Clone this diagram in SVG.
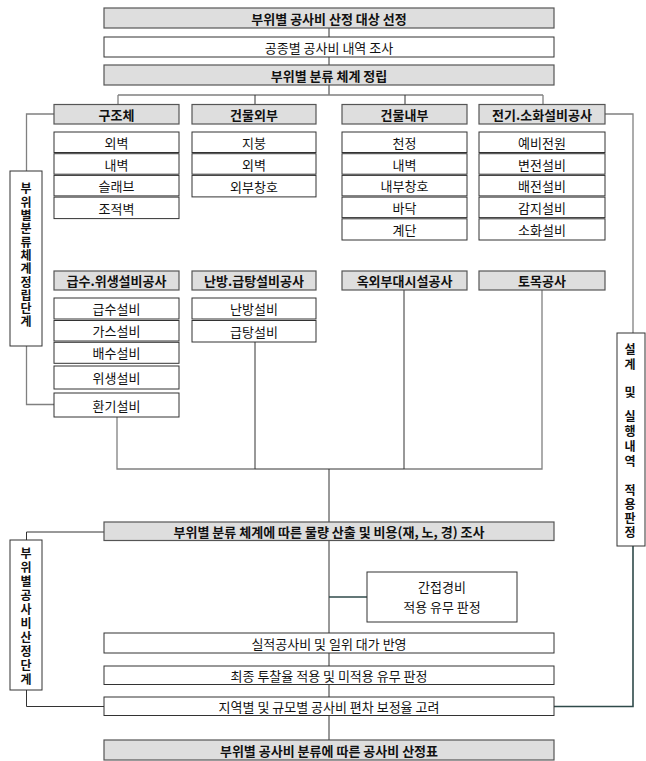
<svg xmlns="http://www.w3.org/2000/svg" width="646" height="761" viewBox="0 0 646 761">
<style>
  .g{fill:#dedede;stroke:#555;stroke-width:1.2}
  .w{fill:#fff;stroke:#333;stroke-width:1}
  .l{fill:#fff;stroke:#333;stroke-width:1}
  text{font-family:"Noto Sans CJK KR","Noto Sans",sans-serif;fill:#111;text-anchor:middle;dominant-baseline:central}
  .b{font-size:13px;font-weight:bold}
  .n{font-size:13px}
  .v{font-size:12px;font-weight:bold;writing-mode:vertical-rl;text-orientation:upright}
  .c{fill:none;stroke:#333;stroke-width:1}
  .cg{fill:none;stroke:#808080;stroke-width:1.3}
  .ct{fill:none;stroke:#2f4a4a;stroke-width:1.6}
</style>
<rect width="646" height="761" fill="#fff"/>
<g id="connectors">
  <path class="c" d="M329 28V37M329 57V65M329 85V95"/>
  <path class="cg" d="M118 95H543M118 95V104.5M543 95V104.5"/>
  <path class="c" d="M255 95V104.5M405 95V104.5"/>
  <path class="cg" d="M54 114H26.5V171M26.5 346V404.5H54"/>
  <path class="cg" d="M605 114H633V333"/>
  <path class="cg" d="M117 417V469H255M542 290V469H404"/>
  <path class="c" d="M255 342V469H404M404 290V469M329 469V522"/>
  <path class="c" d="M104 532H26.5V540M26.5 690V706.5H104"/>
  <path class="c" d="M329 540V633M329 653V666M329 684V697M329 715V740"/>
  <path class="ct" d="M329 597H367"/>
  <path class="ct" d="M554 706.5H633V546"/>
</g>
<g id="n_top1"><rect class="g" x="104" y="8" width="450" height="20"/><text class="b" x="329" y="18">부위별 공사비 산정 대상 선정</text></g>
<g id="n_top2"><rect class="w" x="104" y="37" width="450" height="20"/><text class="n" x="329" y="47">공종별 공사비 내역 조사</text></g>
<g id="n_top3"><rect class="g" x="104" y="65" width="450" height="20"/><text class="b" x="329" y="75">부위별 분류 체계 정립</text></g>

<g id="n_structure"><rect class="g" x="54" y="104.5" width="125" height="19.5"/><text class="b" x="116.5" y="114.5">구조체</text></g>
<g id="n_structure_items">
  <rect class="w" x="54" y="132" width="125" height="20.5"/><text class="n" x="116.5" y="142.5">외벽</text>
  <rect class="w" x="54" y="153.7" width="125" height="20.5"/><text class="n" x="116.5" y="164.2">내벽</text>
  <rect class="w" x="54" y="175.4" width="125" height="20.5"/><text class="n" x="116.5" y="185.9">슬래브</text>
  <rect class="w" x="54" y="197.1" width="125" height="21.5"/><text class="n" x="116.5" y="208">조적벽</text>
</g>
<g id="n_exterior"><rect class="g" x="192" y="104.5" width="124" height="19.5"/><text class="b" x="254" y="114.5">건물외부</text></g>
<g id="n_exterior_items">
  <rect class="w" x="192" y="132" width="124" height="20.5"/><text class="n" x="254" y="142.5">지붕</text>
  <rect class="w" x="192" y="153.7" width="124" height="20.5"/><text class="n" x="254" y="164.2">외벽</text>
  <rect class="w" x="192" y="175.4" width="124" height="21.5"/><text class="n" x="254" y="186.2">외부창호</text>
</g>
<g id="n_interior"><rect class="g" x="342" y="104.5" width="125" height="19.5"/><text class="b" x="404.5" y="114.5">건물내부</text></g>
<g id="n_interior_items">
  <rect class="w" x="342" y="132" width="125" height="20.5"/><text class="n" x="404.5" y="142.5">천정</text>
  <rect class="w" x="342" y="153.7" width="125" height="20.5"/><text class="n" x="404.5" y="164.2">내벽</text>
  <rect class="w" x="342" y="175.4" width="125" height="20.5"/><text class="n" x="404.5" y="185.9">내부창호</text>
  <rect class="w" x="342" y="197.1" width="125" height="20.5"/><text class="n" x="404.5" y="207.6">바닥</text>
  <rect class="w" x="342" y="218.8" width="125" height="21.2"/><text class="n" x="404.5" y="229.4">계단</text>
</g>
<g id="n_electric"><rect class="g" x="479" y="104.5" width="126" height="19.5"/><text class="b" x="542" y="114.5">전기.소화설비공사</text></g>
<g id="n_electric_items">
  <rect class="w" x="479" y="132" width="126" height="20.5"/><text class="n" x="542" y="142.5">예비전원</text>
  <rect class="w" x="479" y="153.7" width="126" height="20.5"/><text class="n" x="542" y="164.2">변전설비</text>
  <rect class="w" x="479" y="175.4" width="126" height="20.5"/><text class="n" x="542" y="185.9">배전설비</text>
  <rect class="w" x="479" y="197.1" width="126" height="20.5"/><text class="n" x="542" y="207.6">감지설비</text>
  <rect class="w" x="479" y="218.8" width="126" height="21.2"/><text class="n" x="542" y="229.4">소화설비</text>
</g>

<g id="n_plumbing"><rect class="g" x="54" y="271" width="125" height="19"/><text class="b" x="116.5" y="280.5">급수.위생설비공사</text></g>
<g id="n_plumbing_items">
  <rect class="w" x="54" y="298" width="125" height="21"/><text class="n" x="116.5" y="308.5">급수설비</text>
  <rect class="w" x="54" y="320.5" width="125" height="20.5"/><text class="n" x="116.5" y="330.7">가스설비</text>
  <rect class="w" x="54" y="342.3" width="125" height="21"/><text class="n" x="116.5" y="352.8">배수설비</text>
  <rect class="w" x="54" y="366" width="125" height="23"/><text class="n" x="116.5" y="377.5">위생설비</text>
  <rect class="w" x="54" y="393" width="125" height="24"/><text class="n" x="116.5" y="405">환기설비</text>
</g>
<g id="n_heating"><rect class="g" x="192" y="271" width="124" height="19"/><text class="b" x="254" y="280.5">난방.급탕설비공사</text></g>
<g id="n_heating_items">
  <rect class="w" x="192" y="298" width="124" height="21"/><text class="n" x="254" y="308.5">난방설비</text>
  <rect class="w" x="192" y="320.5" width="124" height="21.5"/><text class="n" x="254" y="331.2">급탕설비</text>
</g>
<g id="n_outdoor"><rect class="g" x="342" y="271" width="125" height="19"/><text class="b" x="404.5" y="280.5">옥외부대시설공사</text></g>
<g id="n_civil"><rect class="g" x="479" y="271" width="126" height="19"/><text class="b" x="542" y="280.5">토목공사</text></g>

<g id="n_label_left1"><rect class="l" x="10" y="171" width="32" height="175"/>
  <text class="v" x="26" y="256" letter-spacing="1.3">부위별분류체계정립단계</text>
</g>
<g id="n_label_right"><rect class="l" x="617" y="333" width="28" height="213"/>
  <text class="v" x="630" y="358" letter-spacing="3">설계</text>
  <text class="v" x="630" y="392">및</text>
  <text class="v" x="630" y="440.6" letter-spacing="3.3">실행내역</text>
  <text class="v" x="630" y="512" letter-spacing="2">적용판정</text>
</g>

<g id="n_quantity"><rect class="g" x="104" y="522" width="450" height="18.5"/><text class="b" x="329" y="531.5">부위별 분류 체계에 따른 물량 산출 및 비용(재, 노, 경) 조사</text></g>
<g id="n_indirect"><rect class="w" x="367" y="572" width="150" height="50"/><text class="n" x="442" y="586">간접경비</text><text class="n" x="442" y="606">적용 유무 판정</text></g>
<g id="n_actual"><rect class="w" x="104" y="633" width="450" height="20"/><text class="n" x="329" y="643">실적공사비 및 일위 대가 반영</text></g>
<g id="n_bid"><rect class="w" x="104" y="666" width="450" height="18.5"/><text class="n" x="329" y="675.2">최종 투찰율 적용 및 미적용 유무 판정</text></g>
<g id="n_region"><rect class="w" x="104" y="697" width="450" height="18.5"/><text class="n" x="329" y="706.2">지역별 및 규모별 공사비 편차 보정율 고려</text></g>
<g id="n_final"><rect class="g" x="104" y="740" width="450" height="20"/><text class="b" x="329" y="750">부위별 공사비 분류에 따른 공사비 산정표</text></g>
<g id="n_label_left2"><rect class="l" x="10" y="540" width="32" height="150"/>
  <text class="v" x="26" y="617.5" letter-spacing="2.1">부위별공사비산정단계</text>
</g>
</svg>
